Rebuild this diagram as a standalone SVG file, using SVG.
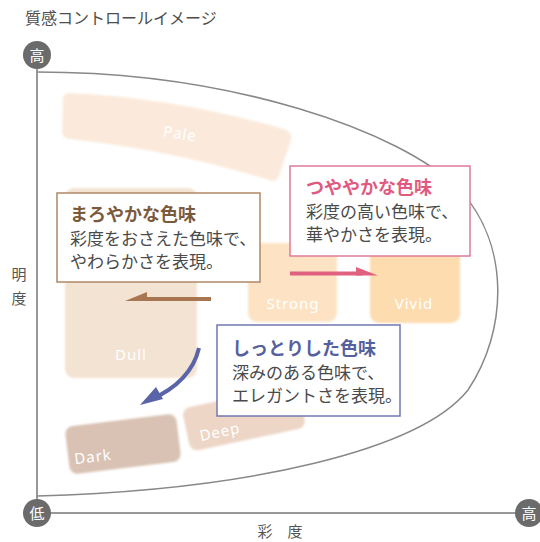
<svg xmlns="http://www.w3.org/2000/svg" width="540" height="542" viewBox="0 0 540 542">
<style>
.jp{font-family:"Noto Sans CJK JP","Noto Sans",sans-serif}
.lbl{font-family:"Noto Sans","Liberation Sans",sans-serif;font-size:15px;fill:#ffffff;letter-spacing:1px;text-anchor:middle}
.axis{stroke:#777;stroke-width:1.5;fill:none}
.dot{fill:#6b6b6b}
.dott{font-family:"Noto Sans CJK JP",sans-serif;font-size:15px;fill:#fff;text-anchor:middle}
.box{fill:#fff;stroke-width:1.5}
.bt{font-size:18px;font-weight:bold}
.bd{font-size:17px;fill:#4a4a4a}
</style>
<defs>
<filter id="soft" x="-10%" y="-10%" width="120%" height="120%"><feGaussianBlur stdDeviation="1.2"/></filter>
</defs>
<text class="jp" x="25" y="24" font-size="16" fill="#4d4d4d">質感コントロールイメージ</text>

<g id="frame">
<path class="axis" d="M37,69 V513 H516"/>
<path d="M37,72 C230,72 400,130 460,190 C510,245 508,330 468,390 C420,450 250,490 37,496" fill="none" stroke="#888" stroke-width="1.5"/>
</g>

<g id="pale">
<path filter="url(#soft)" fill="#fbeadb" d="M70,93 Q176,98 284,129 Q293,132 291,140 L279,176 Q277,183 269,180 Q172,150 69,139 Q62,138 62,132 L63,99 Q63,93 70,93 Z"/>
<text class="lbl" x="180" y="139" transform="rotate(9 180 134)">Pale</text>
</g>
<g id="dull">
<rect filter="url(#soft)" x="65" y="188" width="132" height="190" rx="9" fill="#f3e3d2"/>
<text class="lbl" x="131" y="360">Dull</text>
</g>
<g id="strong">
<rect filter="url(#soft)" x="248" y="243" width="89" height="79" rx="9" fill="#fde3c4"/>
<text class="lbl" x="293" y="309">Strong</text>
</g>
<g id="vivid">
<rect filter="url(#soft)" x="370" y="243" width="90" height="80" rx="9" fill="#fddcb0"/>
<text class="lbl" x="414" y="309">Vivid</text>
</g>
<g id="dark">
<rect filter="url(#soft)" x="67" y="420" width="112" height="48" rx="8" fill="#d9c2b3" transform="rotate(-7 123 444)"/>
<text class="lbl" x="93" y="462" transform="rotate(-7 93 457)">Dark</text>
</g>
<g id="deep">
<rect filter="url(#soft)" x="185" y="396" width="118" height="44" rx="8" fill="#edd6c6" transform="rotate(-12 244 418)"/>
<text class="lbl" x="220" y="437" transform="rotate(-12 220 432)">Deep</text>
</g>

<g id="connectors">
<line x1="211" y1="299" x2="140" y2="299" stroke="#a87650" stroke-width="4"/>
<polygon points="147,292 125,301 147,301" fill="#a87650"/>
<line x1="290" y1="273.5" x2="362" y2="273.5" stroke="#e0607f" stroke-width="4"/>
<polygon points="356,267 378,275.5 356,275.5" fill="#e0607f"/>
<path d="M199,348 Q191,382 150,400" fill="none" stroke="#5a64a8" stroke-width="4"/>
<polygon points="156,387 140,405 163,399" fill="#5a64a8"/>
</g>

<g id="box-mild">
<rect class="box" x="57" y="193" width="203" height="89" stroke="#b08866"/>
<text class="jp bt" x="70" y="221" fill="#7b5a3c">まろやかな色味</text>
<text class="jp bd" x="70" y="245">彩度をおさえた色味で、</text>
<text class="jp bd" x="70" y="268">やわらかさを表現。</text>
</g>
<g id="box-glossy">
<rect class="box" x="290" y="166" width="180" height="90" stroke="#e07a98"/>
<text class="jp bt" x="306" y="194" fill="#e05a80">つややかな色味</text>
<text class="jp bd" x="306" y="218">彩度の高い色味で、</text>
<text class="jp bd" x="306" y="241">華やかさを表現。</text>
</g>
<g id="box-moist">
<rect class="box" x="217" y="325" width="183" height="91" stroke="#7278b0"/>
<text class="jp bt" x="232" y="355" fill="#55609e">しっとりした色味</text>
<text class="jp bd" x="232" y="379">深みのある色味で、</text>
<text class="jp bd" x="232" y="402">エレガントさを表現。</text>
</g>

<g id="axis-labels">
<text class="jp" x="19" y="280" font-size="15" fill="#555" text-anchor="middle">明</text>
<text class="jp" x="19" y="304" font-size="15" fill="#555" text-anchor="middle">度</text>
<text class="jp" y="537" font-size="15" fill="#555" text-anchor="middle"><tspan x="265">彩</tspan><tspan x="295">度</tspan></text>
</g>
<g id="dot-top"><circle class="dot" cx="37" cy="55" r="14"/><text class="dott" x="37" y="60.5">高</text></g>
<g id="dot-origin"><circle class="dot" cx="37" cy="513" r="14"/><text class="dott" x="37" y="518.5">低</text></g>
<g id="dot-right"><circle class="dot" cx="529" cy="513" r="14"/><text class="dott" x="529" y="518.5">高</text></g>
</svg>
